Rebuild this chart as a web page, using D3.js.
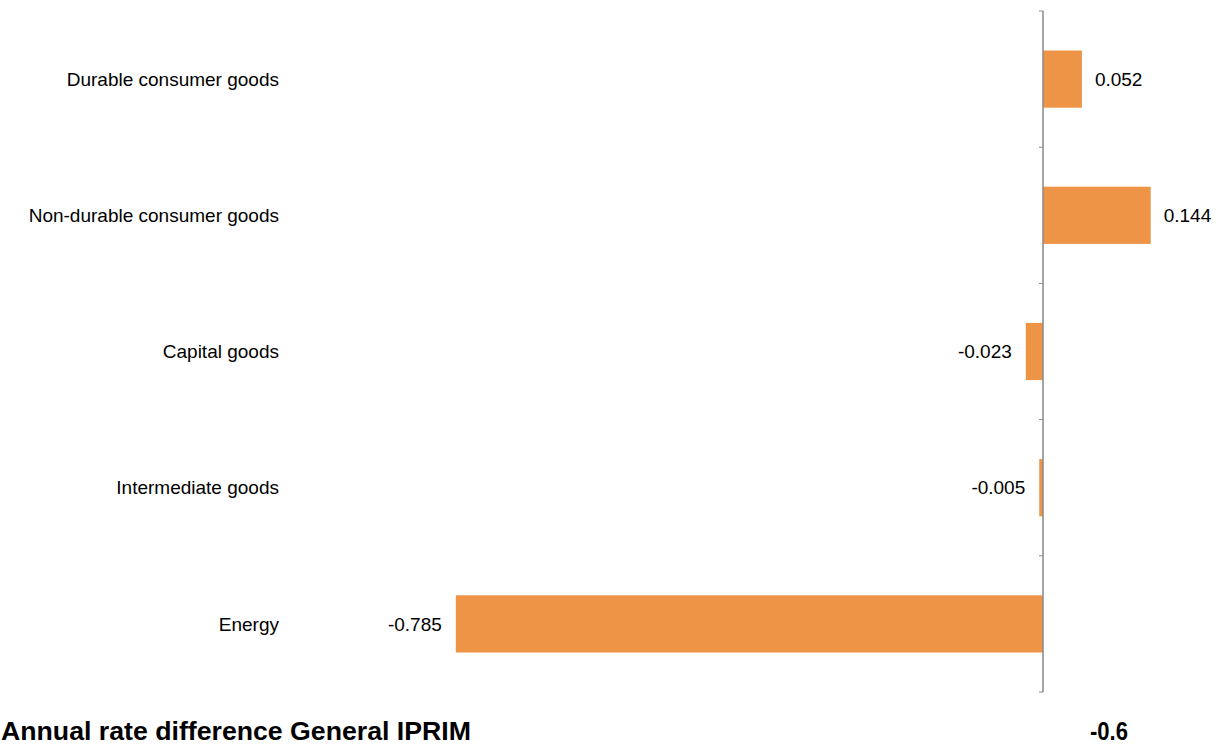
<!DOCTYPE html>
<html><head><meta charset="utf-8">
<script src="https://cdn.jsdelivr.net/npm/d3@7"></script>
<style>body{margin:0;background:#fff;} svg{display:block;}</style>
</head><body>
<svg id="c" width="1223" height="746"></svg>
<script>
const categories = ["Durable consumer goods","Non-durable consumer goods","Capital goods","Intermediate goods","Energy"];
const values = [0.052, 0.144, -0.023, -0.005, -0.785];
const valueLabels = ["0.052","0.144","-0.023","-0.005","-0.785"];
const footerLabel = "Annual rate difference General IPRIM";
const footerValue = "-0.6";

const svg = d3.select("#c");
const font = "'Liberation Sans', Arial, sans-serif";
const x = d3.scaleLinear().domain([-0.8, 0.2]).range([444.6, 1192.6]);
const y = d3.scaleBand().domain(categories).range([11, 692]).paddingInner(0.58).paddingOuter(0.29);
const x0 = x(0);

// bars
svg.selectAll("rect.bar").data(categories).join("rect")
  .attr("class","bar")
  .attr("x",(d,i)=>Math.min(x(values[i]),x0))
  .attr("width",(d,i)=>Math.abs(x(values[i])-x0))
  .attr("y",d=>y(d)).attr("height",y.bandwidth())
  .attr("fill","#ED9447");

// axis line with ticks at band boundaries
const bounds = d3.range(categories.length+1).map(i=>11 + i*(681/categories.length));
svg.append("line").attr("x1",x0).attr("x2",x0).attr("y1",11).attr("y2",692)
  .attr("stroke","#888").attr("stroke-width",1.5);
svg.selectAll("line.tick").data(bounds).join("line").attr("class","tick")
  .attr("x1",x0-4).attr("x2",x0).attr("y1",d=>d).attr("y2",d=>d)
  .attr("stroke","#888").attr("stroke-width",1);

// category labels
svg.selectAll("text.cat").data(categories).join("text").attr("class","cat")
  .attr("x",279).attr("y",d=>y(d)+y.bandwidth()/2).attr("dy","0.35em")
  .attr("text-anchor","end").attr("font-family",font).attr("font-size",19).attr("fill","#000")
  .text(d=>d);

// value labels
svg.selectAll("text.val").data(categories).join("text").attr("class","val")
  .attr("x",(d,i)=>values[i]>=0 ? x(values[i])+13 : x(values[i])-14)
  .attr("y",d=>y(d)+y.bandwidth()/2).attr("dy","0.35em")
  .attr("text-anchor",(d,i)=>values[i]>=0?"start":"end")
  .attr("font-family",font).attr("font-size",19).attr("fill","#000")
  .text((d,i)=>valueLabels[i]);

// footer
svg.append("text").attr("x",1).attr("y",740).attr("font-family",font).attr("font-weight","bold")
  .attr("font-size",25).attr("textLength",470).attr("lengthAdjust","spacingAndGlyphs").text(footerLabel);
svg.append("text").attr("x",1090).attr("y",740).attr("font-family",font).attr("font-weight","bold")
  .attr("font-size",25).attr("textLength",38).attr("lengthAdjust","spacingAndGlyphs").text(footerValue);
</script>
</body></html>
